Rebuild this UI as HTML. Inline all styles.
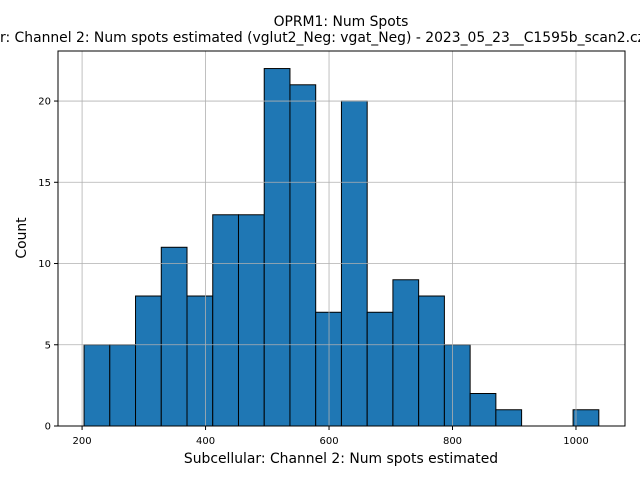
<!DOCTYPE html>
<html><head><meta charset="utf-8"><style>
html,body{margin:0;padding:0;background:#fff;}
svg{display:block;font-family:"DejaVu Sans","Liberation Sans",sans-serif;}
</style></head><body>
<svg id="chart" width="640" height="480" viewBox="0 0 640 480">
<rect x="0" y="0" width="640" height="480" fill="#fff"/>
<text x="341" y="26" font-size="13.9" text-anchor="middle" fill="#000">OPRM1: Num Spots</text>
<text id="sub" x="-70" y="42" font-size="13.9" text-anchor="start" fill="#000">Subcellular: Channel 2: Num spots estimated (vglut2_Neg: vgat_Neg) - 2023_05_23__C1595b_scan2.czi</text>
<text id="measure" x="0" y="-100" font-size="13.9" fill="none">Subcellula</text>
<g id="bars"></g>
<g id="grid"></g>
<rect x="58" y="51" width="567" height="375" fill="none" stroke="#000" stroke-width="1"/>
<g id="xticks"></g>
<g id="yticks"></g>
<text x="341" y="463" font-size="13.9" text-anchor="middle">Subcellular: Channel 2: Num spots estimated</text>
<text x="0" y="0" font-size="13.9" text-anchor="middle" transform="translate(26,238) rotate(-90)">Count</text>
</svg>
<script>
const counts = [5,5,8,11,8,13,13,22,21,7,20,7,9,8,5,2,1,0,0,1];
const binStart = 203.2;
const binEnd = 1037;
const xTicks = [200,400,600,800,1000];
const yTicks = [0,5,10,15,20];
const NS = "http://www.w3.org/2000/svg";
try{
  const w=document.getElementById('measure').getComputedTextLength();
  document.getElementById('sub').setAttribute('x', -w);
}catch(e){}
const L=58,R=625,T=51,B=426;
const xMin=161, xMax=1079.4, yMax=23.08;
const X = v => L + (v-xMin)/(xMax-xMin)*(R-L);
const Y = v => B - v/yMax*(B-T);
const bars=document.getElementById('bars'), grid=document.getElementById('grid');
const bw=(binEnd-binStart)/counts.length;
counts.forEach((c,i)=>{
  if(c<=0) return;
  const r=document.createElementNS(NS,'rect');
  const x0=X(binStart+i*bw), x1=X(binStart+(i+1)*bw);
  r.setAttribute('x',x0); r.setAttribute('y',Y(c));
  r.setAttribute('width',x1-x0); r.setAttribute('height',Y(0)-Y(c));
  r.setAttribute('fill','#1f77b4'); r.setAttribute('stroke','#000'); r.setAttribute('stroke-width','1');
  
  
  bars.appendChild(r);
});
const xt=document.getElementById('xticks'), yt=document.getElementById('yticks');
xTicks.forEach(v=>{
  const x=X(v);
  const g=document.createElementNS(NS,'line');
  g.setAttribute('x1',x);g.setAttribute('x2',x);g.setAttribute('y1',T);g.setAttribute('y2',B);
  g.setAttribute('stroke','#b0b0b0');g.setAttribute('stroke-width','0.8');
  
  
  grid.appendChild(g);
  const t=document.createElementNS(NS,'line');
  t.setAttribute('x1',x);t.setAttribute('x2',x);t.setAttribute('y1',B);t.setAttribute('y2',B+4);t.setAttribute('stroke','#000');
  
  
  xt.appendChild(t);
  const l=document.createElementNS(NS,'text');
  l.setAttribute('x',x);l.setAttribute('y',B+18);l.setAttribute('font-size','10');l.setAttribute('text-anchor','middle');
  l.textContent=v;
  
  
  xt.appendChild(l);
});
yTicks.forEach(v=>{
  const y=Y(v);
  const g=document.createElementNS(NS,'line');
  g.setAttribute('x1',L);g.setAttribute('x2',R);g.setAttribute('y1',y);g.setAttribute('y2',y);
  g.setAttribute('stroke','#b0b0b0');g.setAttribute('stroke-width','0.8');
  
  
  grid.appendChild(g);
  const t=document.createElementNS(NS,'line');
  t.setAttribute('x1',L-4);t.setAttribute('x2',L);t.setAttribute('y1',y);t.setAttribute('y2',y);t.setAttribute('stroke','#000');
  
  
  yt.appendChild(t);
  const l=document.createElementNS(NS,'text');
  l.setAttribute('x',L-7);l.setAttribute('y',y+3.5);l.setAttribute('font-size','10');l.setAttribute('text-anchor','end');
  l.textContent=v;
  
  
  yt.appendChild(l);
});
</script>
</body></html>
